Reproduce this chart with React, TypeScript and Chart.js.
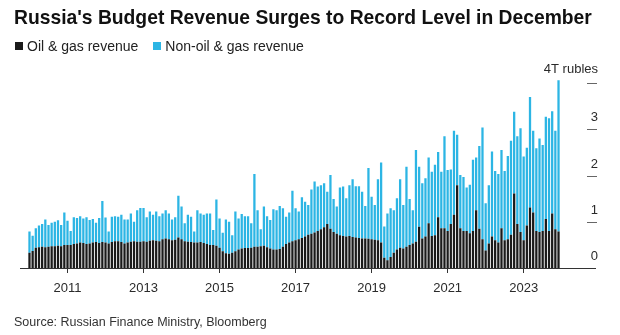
import React, { useEffect, useRef } from "react";
import { Chart, registerables } from "chart.js";

Chart.register(...registerables);

const YEARS = [2010, 2011, 2012, 2013, 2014, 2015, 2016, 2017, 2018, 2019, 2020, 2021, 2022, 2023];
const MONTHS = ["Jan", "Feb", "Mar", "Apr", "May", "Jun", "Jul", "Aug", "Sep", "Oct", "Nov", "Dec"];
const categories = YEARS.flatMap((y) => MONTHS.map((m) => `${m} ${y}`));

// trillion rubles, monthly
const oilGasRevenue = [
  0.33, 0.37, 0.44, 0.45, 0.46, 0.45, 0.46, 0.47, 0.47, 0.48, 0.47, 0.50, // 2010
  0.50, 0.50, 0.52, 0.53, 0.55, 0.54, 0.52, 0.53, 0.55, 0.56, 0.54, 0.56, // 2011
  0.55, 0.53, 0.56, 0.58, 0.58, 0.56, 0.53, 0.55, 0.57, 0.58, 0.57, 0.57, // 2012
  0.58, 0.57, 0.59, 0.60, 0.59, 0.58, 0.62, 0.64, 0.62, 0.60, 0.61, 0.66, // 2013
  0.62, 0.58, 0.57, 0.56, 0.55, 0.55, 0.56, 0.54, 0.52, 0.50, 0.50, 0.48, // 2014
  0.44, 0.36, 0.32, 0.31, 0.33, 0.36, 0.40, 0.42, 0.43, 0.43, 0.44, 0.46, // 2015
  0.46, 0.47, 0.48, 0.45, 0.42, 0.40, 0.40, 0.41, 0.46, 0.52, 0.55, 0.58, // 2016
  0.60, 0.62, 0.65, 0.68, 0.72, 0.74, 0.77, 0.80, 0.84, 0.88, 0.95, 0.85, // 2017
  0.78, 0.74, 0.71, 0.69, 0.68, 0.69, 0.67, 0.66, 0.65, 0.64, 0.64, 0.63, // 2018
  0.62, 0.61, 0.60, 0.55, 0.22, 0.17, 0.24, 0.33, 0.40, 0.44, 0.42, 0.46, // 2019
  0.50, 0.53, 0.57, 0.89, 0.64, 0.68, 0.97, 0.69, 0.71, 1.10, 0.86, 0.86, // 2020
  0.80, 0.95, 1.15, 1.79, 0.86, 0.80, 0.80, 0.75, 0.80, 1.25, 0.85, 0.62, // 2021
  0.38, 0.53, 0.68, 0.60, 0.55, 0.86, 0.60, 0.62, 0.72, 1.61, 0.95, 0.78, // 2022
  0.60, 0.92, 1.31, 1.20, 0.80, 0.78, 0.80, 1.06, 0.80, 1.18, 0.84, 0.79, // 2023
];

const nonOilGasRevenue = [
  0.46, 0.33, 0.42, 0.47, 0.49, 0.60, 0.47, 0.51, 0.53, 0.55, 0.46, 0.70, // 2010
  0.52, 0.30, 0.58, 0.55, 0.57, 0.53, 0.58, 0.51, 0.51, 0.42, 0.54, 0.89, // 2011
  0.54, 0.26, 0.55, 0.54, 0.53, 0.59, 0.52, 0.50, 0.61, 0.42, 0.68, 0.73, // 2012
  0.72, 0.53, 0.63, 0.55, 0.63, 0.54, 0.56, 0.61, 0.56, 0.45, 0.49, 0.90, // 2013
  0.71, 0.39, 0.58, 0.55, 0.24, 0.70, 0.62, 0.61, 0.66, 0.68, 0.32, 1.00, // 2014
  0.63, 0.40, 0.73, 0.69, 0.38, 0.86, 0.67, 0.75, 0.69, 0.69, 0.53, 1.57, // 2015
  0.79, 0.37, 0.85, 0.67, 0.62, 0.87, 0.85, 0.93, 0.83, 0.59, 0.65, 1.09, // 2016
  0.69, 0.60, 0.88, 0.75, 0.64, 0.96, 1.10, 0.96, 0.95, 0.95, 0.70, 1.16, // 2017
  0.71, 0.59, 1.03, 1.07, 0.83, 1.10, 1.25, 1.11, 1.12, 1.01, 0.70, 1.53, // 2018
  0.92, 0.75, 1.32, 1.73, 0.68, 1.01, 1.05, 0.92, 1.11, 1.48, 0.94, 1.73, // 2019
  0.99, 0.72, 1.98, 1.30, 1.19, 1.26, 1.42, 1.39, 1.52, 1.41, 1.22, 1.99, // 2020
  1.32, 1.18, 1.82, 1.09, 1.15, 1.17, 0.94, 1.05, 1.54, 1.14, 1.79, 2.42, // 2021
  1.02, 1.26, 1.84, 1.50, 1.48, 1.69, 1.50, 1.80, 2.03, 1.77, 1.90, 2.24, // 2022
  1.81, 1.68, 2.39, 1.77, 1.79, 2.02, 1.86, 2.21, 2.44, 2.21, 2.13, 3.27, // 2023
];

const xTickYears = [2011, 2013, 2015, 2017, 2019, 2021, 2023];
const yTickValues = [0, 1, 2, 3, 4];
const yTickLabels = ["0", "1", "2", "3", "4T rubles"];

const TITLE = "Russia's Budget Revenue Surges to Record Level in December";
const SERIES_NAMES = ["Oil & gas revenue", "Non-oil & gas revenue"];
const SOURCE = "Source: Russian Finance Ministry, Bloomberg";

const BLACK = "#1a1a1a";
const BLUE = "#2cb5e4";
const FONT = '"Liberation Sans", Arial, Helvetica, sans-serif';

const axisDecor = {
  id: "axisDecor",
  afterDraw(chart: any) {
    const { ctx } = chart;
    const y = chart.scales.y;
    const y0 = Math.round(y.getPixelForValue(0)) + 0.5;
    ctx.save();
    ctx.strokeStyle = "#333";
    ctx.lineWidth = 1;
    ctx.beginPath();
    ctx.moveTo(20, y0);
    ctx.lineTo(596, y0);
    ctx.stroke();
    ctx.font = `13px ${FONT}`;
    ctx.fillStyle = "#2a2a2a";
    ctx.textAlign = "right";
    ctx.textBaseline = "middle";
    yTickValues.forEach((v, i) => {
      const py = Math.round(y.getPixelForValue(v)) + 0.5;
      if (v > 0) {
        ctx.strokeStyle = "#666";
        ctx.beginPath();
        ctx.moveTo(587, py);
        ctx.lineTo(597, py);
        ctx.stroke();
      }
      ctx.fillText(yTickLabels[i], 598, py - (v === 4 ? 14 : 12.5));
    });
    ctx.restore();
  },
};

export default function App() {
  const ref = useRef<HTMLCanvasElement | null>(null);

  useEffect(() => {
    if (!ref.current) return;
    const chart = new Chart(ref.current, {
      type: "bar",
      data: {
        labels: categories,
        datasets: [
          {
            label: SERIES_NAMES[0],
            data: oilGasRevenue,
            backgroundColor: BLACK,
            barPercentage: 0.72,
            categoryPercentage: 1,
          },
          {
            label: SERIES_NAMES[1],
            data: nonOilGasRevenue,
            backgroundColor: BLUE,
            barPercentage: 0.72,
            categoryPercentage: 1,
          },
        ],
      },
      options: {
        animation: false,
        responsive: false,
        devicePixelRatio: 1,
        layout: { padding: { left: 27.9, right: 59.9, top: 73.75, bottom: 37 } },
        plugins: { legend: { display: false }, tooltip: { enabled: false }, title: { display: false } },
        scales: {
          x: {
            stacked: true,
            offset: true,
            border: { display: false },
            grid: {
              display: true,
              drawOnChartArea: false,
              drawTicks: true,
              tickLength: 5,
              offset: false,
              color: "#333",
              lineWidth: 1,
            },
            afterBuildTicks: (scale: any) => {
              scale.ticks = scale.ticks.filter((t: any) => {
                const lab = categories[t.value];
                return lab.startsWith("Jan") && xTickYears.includes(Number(lab.slice(4)));
              });
            },
            afterFit: (scale: any) => {
              scale.height = 30;
            },
            ticks: {
              autoSkip: false,
              maxRotation: 0,
              padding: 8,
              color: "#2a2a2a",
              font: { family: FONT, size: 13 },
              callback: function (this: any, value: any) {
                return String(categories[value]).slice(4);
              },
            },
          },
          y: {
            stacked: true,
            display: false,
            min: 0,
            max: 4.2,
          },
        },
      },
      plugins: [axisDecor],
    });
    return () => chart.destroy();
  }, []);

  return (
    <div
      style={{
        position: "absolute",
        left: 0,
        top: 0,
        width: 620,
        height: 335,
        background: "#fff",
        fontFamily: FONT,
        overflow: "hidden",
      }}
    >
      <canvas ref={ref} width={620} height={335} style={{ position: "absolute", left: 0, top: 0, width: 620, height: 335 }} />
      <div style={{ position: "absolute", left: 14, top: 8, fontSize: 19.3, lineHeight: "19px", fontWeight: 700, color: "#111", whiteSpace: "nowrap" }}>
        {TITLE}
      </div>
      <div style={{ position: "absolute", left: 15, top: 39, fontSize: 14, lineHeight: "14px", color: "#222", whiteSpace: "nowrap", display: "flex", alignItems: "center" }}>
        <span style={{ display: "inline-block", width: 8, height: 8, background: BLACK, marginRight: 4 }} />
        <span>{SERIES_NAMES[0]}</span>
        <span style={{ display: "inline-block", width: 8, height: 8, background: BLUE, marginLeft: 15, marginRight: 4 }} />
        <span>{SERIES_NAMES[1]}</span>
      </div>
      <div style={{ position: "absolute", left: 14, top: 316, fontSize: 12.5, lineHeight: "12px", color: "#333", whiteSpace: "nowrap" }}>
        {SOURCE}
      </div>
    </div>
  );
}
